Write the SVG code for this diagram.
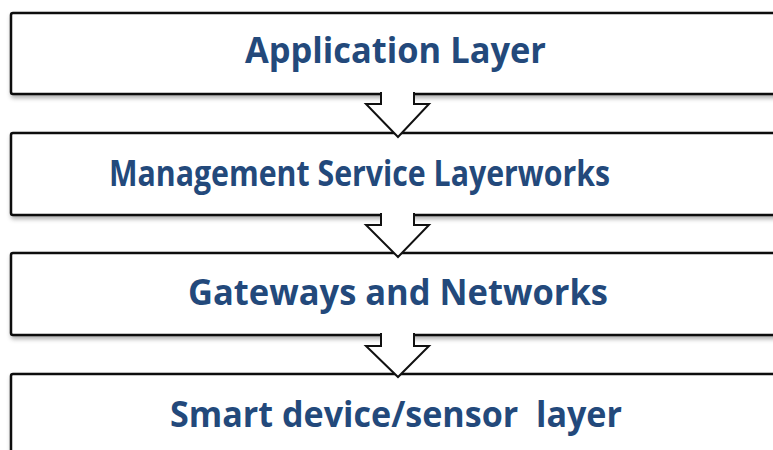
<svg xmlns="http://www.w3.org/2000/svg" width="773" height="450" viewBox="0 0 773 450">
  <defs>
    <filter id="shadow" x="-5%" y="-20%" width="110%" height="150%">
      <feDropShadow dx="1" dy="3" stdDeviation="2" flood-color="#000" flood-opacity="0.3"/>
    </filter>
  </defs>
  <style>
    .box { fill: #ffffff; stroke: #111111; stroke-width: 2.5; }
    .label { font-family: "Open Sans", "Liberation Sans", sans-serif; font-weight: bold; font-size: 35px; fill: #23497b; text-anchor: middle; }
    .arrow { fill: #ffffff; stroke: #111111; stroke-width: 2; stroke-linejoin: miter; }
  </style>
  <rect width="773" height="450" fill="#ffffff"/>

  <g id="application-layer">
    <rect class="box" x="11" y="13" width="790" height="81" rx="2" filter="url(#shadow)"/>
    <text class="label" x="395.5" y="63" textLength="301" lengthAdjust="spacingAndGlyphs">Application Layer</text>
  </g>
  <g id="management-service-layer">
    <rect class="box" x="11" y="133" width="790" height="82" rx="2" filter="url(#shadow)"/>
    <text class="label" x="359.5" y="186" textLength="501" lengthAdjust="spacingAndGlyphs">Management Service Layerworks</text>
  </g>
  <g id="gateways-networks">
    <rect class="box" x="11" y="253" width="790" height="82" rx="2" filter="url(#shadow)"/>
    <text class="label" x="398" y="305" textLength="420" lengthAdjust="spacingAndGlyphs">Gateways and Networks</text>
  </g>
  <g id="smart-device-layer">
    <rect class="box" x="11" y="374" width="790" height="120" rx="2" filter="url(#shadow)"/>
    <text class="label" x="396" y="427" textLength="452" lengthAdjust="spacingAndGlyphs" xml:space="preserve">Smart device/sensor  layer</text>
  </g>

  <g id="connectors">
    <path class="arrow" d="M381,92 L381,104 L366,104 L398,137 L429,104 L414,104 L414,92"/>
    <path class="arrow" d="M381,213 L381,225 L366,225 L398,257 L429,225 L414,225 L414,213"/>
    <path class="arrow" d="M381,333 L381,346 L366,346 L398,377 L429,346 L414,346 L414,333"/>
  </g>
</svg>
